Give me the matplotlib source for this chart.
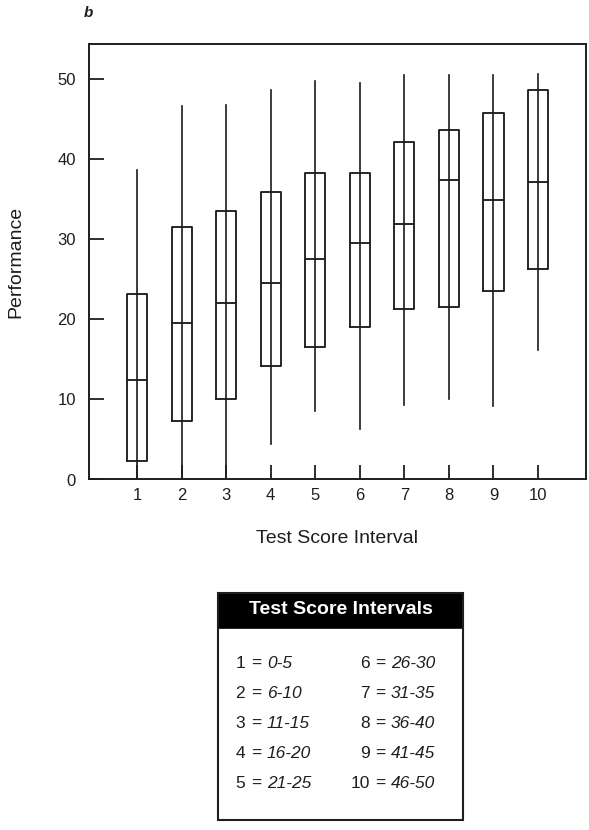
import matplotlib
matplotlib.use("Agg")
import matplotlib.pyplot as plt
from matplotlib.patches import Rectangle

plt.rcParams['font.family'] = ['Liberation Sans', 'DejaVu Sans']

# Performance distribution per test score interval
intervals = [1, 2, 3, 4, 5, 6, 7, 8, 9, 10]
whisker_low = [0.0, 0.0, 0.0, 4.4, 8.6, 6.3, 9.3, 10.1, 9.2, 16.2]
q1 = [2.3, 7.3, 10.0, 14.2, 16.5, 19.0, 21.3, 21.6, 23.6, 26.3]
medians = [12.4, 19.5, 22.0, 24.6, 27.5, 29.5, 31.9, 37.4, 34.9, 37.2]
q3 = [23.2, 31.5, 33.6, 35.9, 38.3, 38.3, 42.1, 43.6, 45.8, 48.6]
whisker_high = [38.7, 46.7, 46.8, 48.6, 49.8, 49.5, 50.5, 50.5, 50.5, 50.7]

y_ticks = [0, 10, 20, 30, 40, 50]
range_labels = ["0-5", "6-10", "11-15", "16-20", "21-25",
                "26-30", "31-35", "36-40", "41-45", "46-50"]

INK = '#1e1e1e'
W, H = 589, 830
fig = plt.figure(figsize=(W / 100, H / 100), dpi=100)

ax_l, ax_r, ax_t, ax_b = 88.5, 585.7, 44, 479.5
ax = fig.add_axes([ax_l / W, 1 - ax_b / H, (ax_r - ax_l) / W, (ax_b - ax_t) / H])

stats = []
for i in range(len(intervals)):
    stats.append(dict(med=medians[i], q1=q1[i], q3=q3[i],
                      whislo=whisker_low[i], whishi=whisker_high[i],
                      fliers=[]))

lw = 1.35
ax.bxp(stats, positions=intervals, widths=0.45, showcaps=False,
       showfliers=False, patch_artist=False,
       boxprops=dict(color=INK, linewidth=lw),
       whiskerprops=dict(color=INK, linewidth=lw * 0.9),
       medianprops=dict(color=INK, linewidth=lw))
# whisker line continues through the box
ax.vlines(intervals, q1, q3, color=INK, linewidth=lw * 0.9)

ax.set_xlim(-0.09, 11.07)
ax.set_ylim(0, 54.4)
ax.set_xticks(intervals)
ax.set_xticklabels([str(v) for v in intervals])
ax.set_yticks(y_ticks)
ax.set_yticklabels([str(v) for v in y_ticks])
ax.tick_params(axis='y', direction='in', length=11, width=1.3, pad=9,
               labelsize=12, colors=INK)
ax.tick_params(axis='x', direction='in', length=10, width=1.3, pad=6,
               labelsize=12, colors=INK)
for s in ax.spines.values():
    s.set_linewidth(1.4)
    s.set_color(INK)

fig.text(88 / W, 1 - 13 / H, "b", fontsize=11, fontweight='bold',
         fontstyle='italic', ha='center', va='center', color=INK)
fig.text(16 / W, 1 - 262 / H, "Performance", rotation=90, fontsize=14,
         ha='center', va='center', color=INK)
fig.text(337 / W, 1 - 538 / H, "Test Score Interval", fontsize=14,
         ha='center', va='center', color=INK)

# Key for the test score intervals
lx, ly, kw, kh = 218, 593, 245, 227
kax = fig.add_axes([lx / W, 1 - (ly + kh) / H, kw / W, kh / H])
kax.set_xlim(0, kw)
kax.set_ylim(kh, 0)
kax.axis('off')
kax.add_patch(Rectangle((0, 0), kw, 35, facecolor='black',
                        edgecolor='black', linewidth=1.2))
kax.add_patch(Rectangle((0, 0), kw, kh, facecolor='none',
                        edgecolor=INK, linewidth=1.5, clip_on=False))
kax.text(kw / 2, 17, "Test Score Intervals", color='white',
         fontsize=14, fontweight='bold', ha='center', va='center')

row_y = [70, 100, 130, 160, 190]
num_right = [27, 152]
eq_center = [38, 162]
range_left = [49, 173]
for i, (num, rng) in enumerate(zip(intervals, range_labels)):
    col = i // 5
    y = row_y[i % 5]
    kax.text(num_right[col], y, str(num), fontsize=12.5,
             ha='right', va='center', color=INK)
    kax.text(eq_center[col], y, "=", fontsize=12.5,
             ha='center', va='center', color=INK)
    kax.text(range_left[col], y, rng, fontsize=12.5, fontstyle='italic',
             ha='left', va='center', color=INK)

fig.savefig("out.png", dpi=100)
